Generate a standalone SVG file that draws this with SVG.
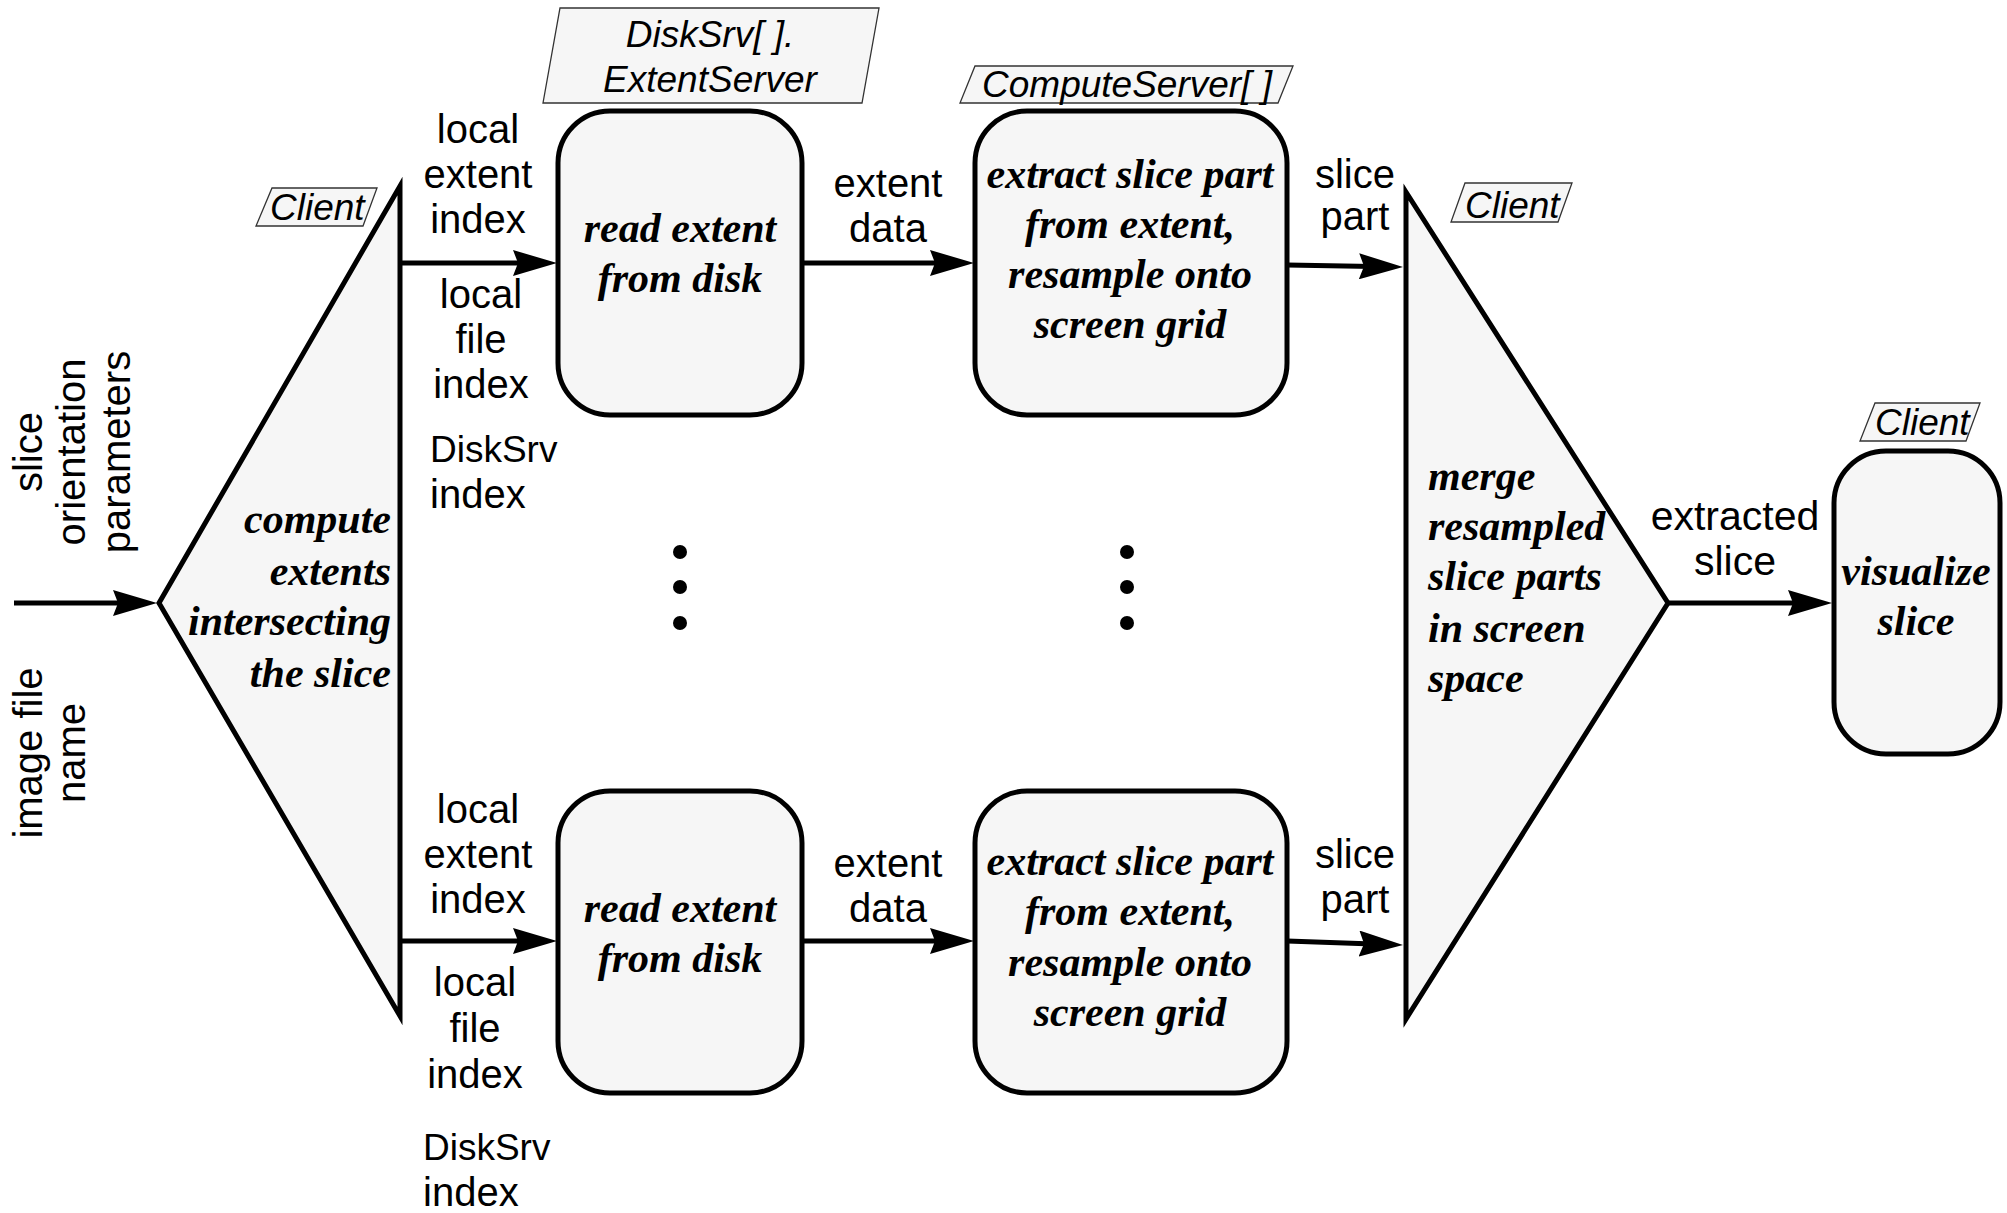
<svg xmlns="http://www.w3.org/2000/svg" width="2007" height="1213" viewBox="0 0 2007 1213">
<defs>
<style>
.shape{fill:#f6f6f6;stroke:#000;stroke-width:5;stroke-linejoin:miter}
.tag{fill:#f6f6f6;stroke:#333;stroke-width:1.3}
.tagt{font-family:"Liberation Sans",Arial,sans-serif;font-style:italic;font-size:37px;fill:#000}
.lbl{font-family:"Liberation Sans",Arial,sans-serif;font-size:40px;fill:#000}
.ds{font-size:37px}
.job{font-family:"Liberation Serif","Times New Roman",serif;font-style:italic;font-weight:bold;font-size:42px;fill:#000}
.conn{stroke:#000;stroke-width:5;fill:none;marker-end:url(#ah)}
.mid{text-anchor:middle}
</style>
<marker id="ah" markerUnits="userSpaceOnUse" viewBox="0 0 44 26" refX="14" refY="13" markerWidth="44" markerHeight="26" orient="auto">
<path d="M0,0 L44,13 L0,26 L5,13 z" fill="#000"/>
</marker>
</defs>
<rect width="2007" height="1213" fill="#fff"/>

<g id="inputs">
<text class="lbl mid" transform="translate(42,452) rotate(-90)">slice</text>
<text class="lbl mid" transform="translate(85,452) rotate(-90)">orientation</text>
<text class="lbl mid" transform="translate(130,452) rotate(-90)">parameters</text>
<text class="lbl mid" transform="translate(42,753) rotate(-90)">image file</text>
<text class="lbl mid" transform="translate(85,753) rotate(-90)">name</text>
</g>

<g id="compute-extents">
<polygon class="shape" points="159,603 400,186 400,1016"/>
<polygon class="tag" points="272,188 377,188 363,226 256,226"/>
<text class="tagt" x="270" y="220">Client</text>
<text class="job" text-anchor="end" x="391" y="533">compute</text>
<text class="job" text-anchor="end" x="391" y="585">extents</text>
<text class="job" text-anchor="end" x="391" y="635">intersecting</text>
<text class="job" text-anchor="end" x="391" y="687">the slice</text>
</g>

<g id="read-extent-top">
<polygon class="tag" points="560,8 879,8 862,103 543,103"/>
<text class="tagt mid" x="710" y="47">DiskSrv[ ].</text>
<text class="tagt mid" x="710" y="92">ExtentServer</text>
<rect class="shape" x="558" y="111" width="244" height="304" rx="52" ry="52"/>
<text class="job mid" x="680" y="242">read extent</text>
<text class="job mid" x="680" y="292">from disk</text>
</g>

<g id="extract-top">
<polygon class="tag" points="975,66 1293,66 1278,103 960,103"/>
<text class="tagt mid" x="1127" y="97">ComputeServer[ ]</text>
<rect class="shape" x="975" y="111" width="312" height="304" rx="52" ry="52"/>
<text class="job mid" x="1130" y="188">extract slice part</text>
<text class="job mid" x="1130" y="238">from extent,</text>
<text class="job mid" x="1130" y="288">resample onto</text>
<text class="job mid" x="1130" y="338">screen grid</text>
</g>

<g id="read-extent-bottom">
<rect class="shape" x="558" y="791" width="244" height="302" rx="52" ry="52"/>
<text class="job mid" x="680" y="922">read extent</text>
<text class="job mid" x="680" y="972">from disk</text>
</g>

<g id="extract-bottom">
<rect class="shape" x="975" y="791" width="312" height="302" rx="52" ry="52"/>
<text class="job mid" x="1130" y="875">extract slice part</text>
<text class="job mid" x="1130" y="925">from extent,</text>
<text class="job mid" x="1130" y="976">resample onto</text>
<text class="job mid" x="1130" y="1026">screen grid</text>
</g>

<g id="merge">
<polygon class="shape" points="1406,192 1668,603 1406,1019"/>
<polygon class="tag" points="1465,183 1572,183 1558,222 1451,222"/>
<text class="tagt" x="1465" y="218">Client</text>
<text class="job" x="1428" y="490">merge</text>
<text class="job" x="1428" y="540">resampled</text>
<text class="job" x="1428" y="590">slice parts</text>
<text class="job" x="1428" y="642">in screen</text>
<text class="job" x="1428" y="692">space</text>
</g>

<g id="visualize">
<polygon class="tag" points="1875,403 1980,403 1966,441 1860,441"/>
<text class="tagt" x="1875" y="435">Client</text>
<rect class="shape" x="1834" y="451" width="166" height="303" rx="52" ry="52"/>
<text class="job mid" x="1916" y="585">visualize</text>
<text class="job mid" x="1916" y="635">slice</text>
</g>

<g id="ellipsis">
<circle cx="680" cy="552" r="7"/>
<circle cx="680" cy="587" r="7"/>
<circle cx="680" cy="623" r="7"/>
<circle cx="1127" cy="552" r="7"/>
<circle cx="1127" cy="587" r="7"/>
<circle cx="1127" cy="623" r="7"/>
</g>

<g id="connectors">
<line class="conn" x1="14" y1="603" x2="127" y2="603"/>
<line class="conn" x1="400" y1="263" x2="527" y2="263"/>
<line class="conn" x1="802" y1="263" x2="944" y2="263"/>
<line class="conn" x1="1287" y1="265" x2="1373" y2="266.5"/>
<line class="conn" x1="400" y1="941" x2="527" y2="941"/>
<line class="conn" x1="802" y1="941" x2="944" y2="941"/>
<line class="conn" x1="1287" y1="941" x2="1373" y2="944"/>
<line class="conn" x1="1668" y1="603" x2="1802" y2="603"/>
</g>

<g id="labels">
<text class="lbl mid" x="478" y="143">local</text>
<text class="lbl mid" x="478" y="188">extent</text>
<text class="lbl mid" x="478" y="233">index</text>
<text class="lbl mid" x="481" y="308">local</text>
<text class="lbl mid" x="481" y="353">file</text>
<text class="lbl mid" x="481" y="398">index</text>
<text class="lbl ds" x="430" y="462">DiskSrv</text>
<text class="lbl" x="430" y="508">index</text>
<text class="lbl mid" x="888" y="197">extent</text>
<text class="lbl mid" x="888" y="242">data</text>
<text class="lbl mid" x="1355" y="188">slice</text>
<text class="lbl mid" x="1355" y="230">part</text>
<text class="lbl mid" x="478" y="823">local</text>
<text class="lbl mid" x="478" y="868">extent</text>
<text class="lbl mid" x="478" y="913">index</text>
<text class="lbl mid" x="475" y="996">local</text>
<text class="lbl mid" x="475" y="1042">file</text>
<text class="lbl mid" x="475" y="1088">index</text>
<text class="lbl ds" x="423" y="1160">DiskSrv</text>
<text class="lbl" x="423" y="1206">index</text>
<text class="lbl mid" x="888" y="877">extent</text>
<text class="lbl mid" x="888" y="922">data</text>
<text class="lbl mid" x="1355" y="868">slice</text>
<text class="lbl mid" x="1355" y="913">part</text>
<text class="lbl mid" x="1735" y="530" style="font-size:41px">extracted</text>
<text class="lbl mid" x="1735" y="575" style="font-size:41px">slice</text>
</g>
</svg>
